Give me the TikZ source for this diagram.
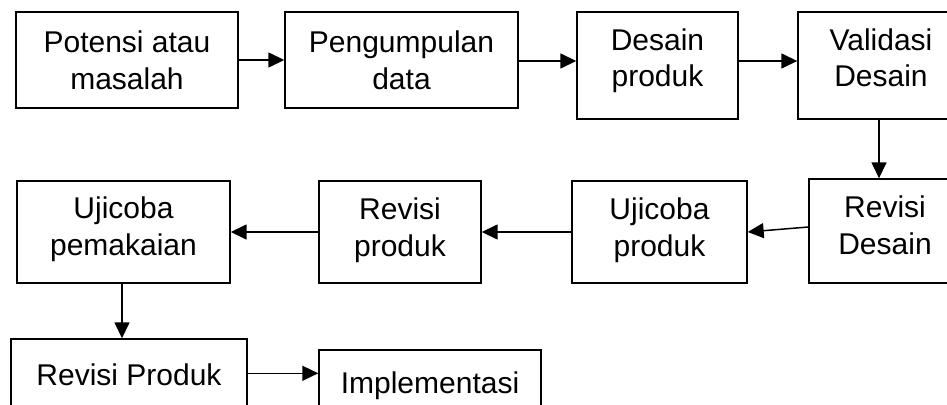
\documentclass[tikz,border=0pt]{standalone}
\usepackage{fontspec}
\setmainfont{Liberation Sans}
\usetikzlibrary{arrows.meta}
\begin{document}
\begin{tikzpicture}[x=1pt,y=-1pt,
  box/.style={draw, line width=1.4pt, rectangle, inner sep=0pt},
  txt/.style={inner sep=0pt, align=center, font=\fontsize{30}{36.5}\selectfont},
  arr/.style={line width=1.5pt, -{Triangle[length=16pt,width=15pt]}}]
\useasboundingbox (0,0) rectangle (947,404);
\clip (0,0) rectangle (947,404);
% row 1
\node[box, minimum width=222pt, minimum height=96pt] (b1) at (127,60) {};
\node[box, minimum width=233pt, minimum height=96pt] (b2) at (401.5,60) {};
\node[box, minimum width=161pt, minimum height=107pt] (b3) at (657.5,65.5) {};
\node[box, minimum width=166pt, minimum height=107pt] (b4) at (881,65.5) {};
% row 2
\node[box, minimum width=152pt, minimum height=104pt] (b5) at (885,231) {};
\node[box, minimum width=175pt, minimum height=102pt] (b6) at (659.5,232) {};
\node[box, minimum width=162pt, minimum height=102pt] (b7) at (400,232) {};
\node[box, minimum width=213pt, minimum height=102pt] (b8) at (123.5,232) {};
% row 3
\node[box, minimum width=236pt, minimum height=92pt] (b9) at (129,385) {};
\node[box, minimum width=222pt, minimum height=80pt] (b10) at (430,390) {};
% texts
\node[txt, anchor=north] (t1) at (127,31) {Potensi atau\\masalah};
\node[txt, anchor=north] (t2) at (401.5,31) {Pengumpulan\\data};
\node[txt, anchor=north] (t3) at (657.5,28.5) {Desain\\produk};
\node[txt, anchor=north] (t4) at (881,28.5) {Validasi\\Desain};
\node[txt, anchor=north] (t5) at (885,196) {Revisi\\Desain};
\node[txt, anchor=north] (t6) at (659.5,198) {Ujicoba\\produk};
\node[txt, anchor=north] (t7) at (400,198) {Revisi\\produk};
\node[txt, anchor=north] (t8) at (123.5,197) {Ujicoba\\pemakaian};
\node[txt, anchor=base] (t9) at (129,385) {Revisi Produk};
\node[txt, anchor=base] (t10) at (430,393) {Implementasi};
% connectors
\draw[arr] (b1.east) -- (b1.east -| b2.west);
\draw[arr] (b2.east -| b3.east) ++(0,1) coordinate (c34) -- (c34 -| b4.west);
\draw[arr] (b2.east) ++(0,1) coordinate (c23) -- (c23 -| b3.west);
\draw[arr] ([xshift=-2pt]b4.south) -- ([xshift=-2pt]b4.south |- b5.north);
\draw[arr] ([yshift=4pt]b5.west) -- (b6.east);
\draw[arr] (b6.west) -- (b6.west -| b7.east);
\draw[arr] (b7.west) -- (b7.west -| b8.east);
\draw[arr] ([xshift=-1.5pt]b8.south) -- ([xshift=-1.5pt]b8.south |- b9.north);
\draw[arr] ([yshift=-35pt]b9.north east) coordinate (c910) -- (c910 -| b10.west);
\end{tikzpicture}
\end{document}
